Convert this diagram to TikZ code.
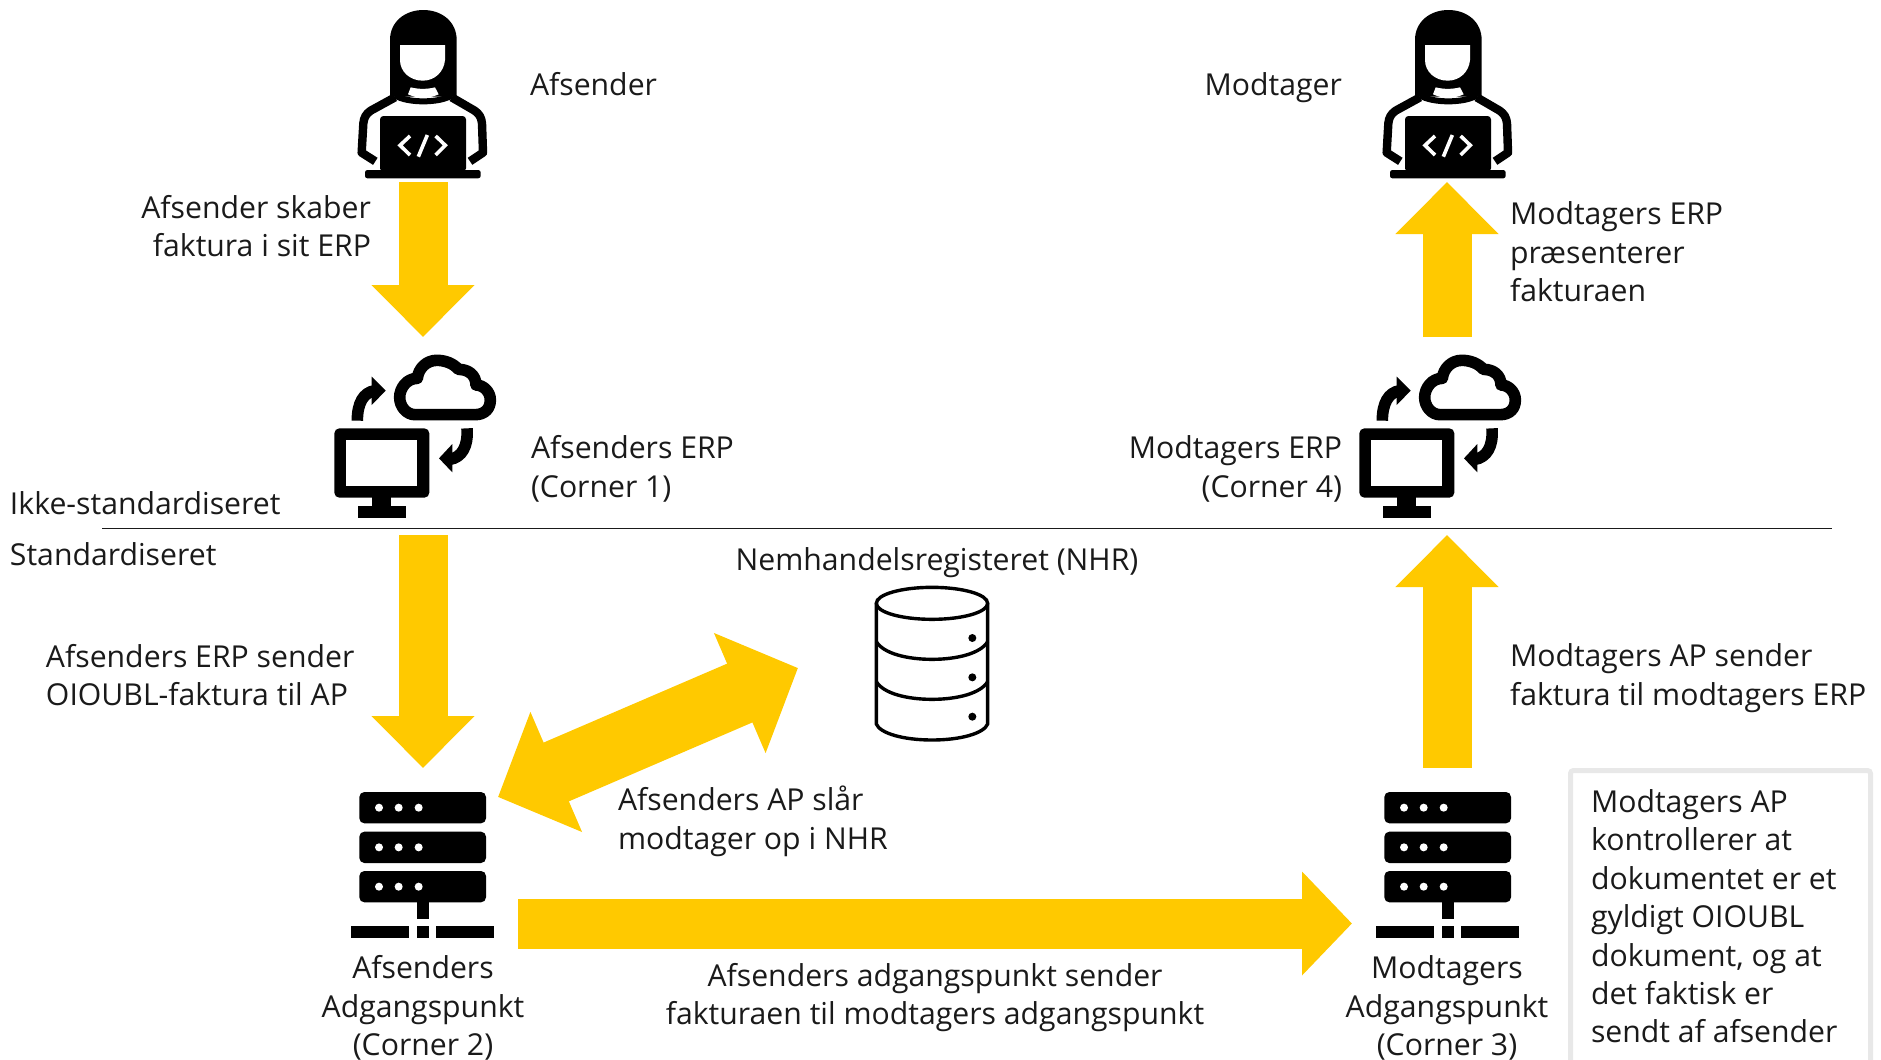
\documentclass[tikz,border=0pt]{standalone}
\usepackage{fontspec}
\setmainfont{Open Sans}
\usetikzlibrary{arrows.meta}
\definecolor{amber}{HTML}{FFC900}
\definecolor{ink}{HTML}{1A1A1A}
\tikzset{
  x=0.5pt,y=-0.5pt,
  txt/.style={inner sep=0pt,outer sep=0pt,yshift=-2.2pt,text=ink,font=\fontsize{15.1pt}{19.2pt}\selectfont,execute at begin node=\strut,execute at end node=\strut},
  iconbox/.style={inner sep=0pt,outer sep=0pt},
  blockv/.style={draw=amber,line width=24.5pt,-{Triangle[length=26pt,width=50pt,color=amber]}},
  blockh/.style={draw=amber,line width=25pt,-{Triangle[length=25pt,width=50.5pt,color=amber]}},
  blockd/.style={draw=amber,line width=32pt,{Triangle[length=31.7pt,width=63.5pt,color=amber]}-{Triangle[length=31.7pt,width=63.5pt,color=amber]}},
}
\newcommand{\personicon}[1]{%
\begin{scope}[shift={(#1,0)},x=0.16667pt,y=-0.16667pt]
 \fill (150,290) -- (150,120) .. controls (150,65) and (195,30) .. (250,30) .. controls (305,30) and (350,65) .. (350,120) -- (350,290) -- cycle;
 \draw[line width=3pt] (165,286) .. controls (200,310) and (300,310) .. (335,286);
 \fill[white] (180,135) -- (315,135) -- (315,180) .. controls (312,215) and (285,242) .. (248,242) .. controls (210,242) and (180,215) .. (180,180) -- cycle;
 \fill[white] (212,262) .. controls (235,268) and (262,268) .. (285,262) -- (296,283) .. controls (265,297) and (235,297) .. (204,283) -- cycle;
 \draw[line width=4.2pt,line join=round] (165,292) -- (92,332) .. controls (78,342) and (72,352) .. (70,370) -- (65,458) -- (106,484);
 \draw[line width=4.2pt,line join=round] (335,292) -- (404,332) .. controls (418,342) and (424,352) .. (426,370) -- (429,458) -- (390,484);
 \fill[rounded corners=1.7pt] (120,348) rectangle (378,515);
 \fill[rounded corners=1.2pt] (75,510) -- (422,510) -- (422,535) -- (75,535) -- cycle;
 \draw[white,line width=1.8pt] (210,408) -- (180,436) -- (210,465);
 \draw[white,line width=1.8pt] (262,405) -- (235,470);
 \draw[white,line width=1.8pt] (287,408) -- (316,436) -- (287,465);
\end{scope}}
\newcommand{\erpicon}[1]{%
\begin{scope}[shift={(#1,340)},x=0.16667pt,y=-0.16667pt]
 \fill[rounded corners=2.5pt] (43,265) rectangle (328,473);
 \fill[white] (78,300) rectangle (292,438);
 \fill (157,470) rectangle (213,500);
 \fill (113,497) rectangle (257,533);
 \draw[line width=5.8pt,line join=round] (285,224) -- (465,224) .. controls (495,224) and (511,205) .. (511,180) .. controls (511,155) and (490,135) .. (468,135) .. controls (468,105) and (445,88) .. (415,88) .. controls (400,70) and (375,61) .. (350,61) .. controls (320,61) and (295,85) .. (292,115) .. controls (260,115) and (239,145) .. (239,172) .. controls (239,200) and (260,224) .. (285,224) -- cycle;
 \draw[line width=5.8pt] (112,242) .. controls (112,190) and (130,157) .. (165,152);
 \fill (155,110) -- (197,152) -- (155,195) -- cycle;
 \draw[line width=5.8pt] (441,265) .. controls (445,320) and (425,352) .. (390,358);
 \fill (397,312) -- (357,355) -- (397,397) -- cycle;
\end{scope}}
\newcommand{\servericon}[1]{%
\begin{scope}[shift={(#1,780)},x=0.16667pt,y=-0.16667pt]
 \foreach \yy in {36,155,273}{
  \fill[rounded corners=2.5pt] (58,\yy) rectangle (438,\yy+94);
  \foreach \xx in {117,176,236}{\fill[white] (\xx,\yy+47) circle (2pt);}
 }
 \fill (231,365) rectangle (267,417);
 \fill (33,438) rectangle (207,474);
 \fill (231,438) rectangle (267,474);
 \fill (288,438) rectangle (462,474);
\end{scope}}
\begin{document}
\begin{tikzpicture}
\useasboundingbox (0,0) rectangle (1881,1060);
% icons
\personicon{340}
\personicon{1365}
\erpicon{320}
\erpicon{1345}
\servericon{340}
\servericon{1365}
\begin{scope}[shift={(860,570)},x=0.16667pt,y=-0.16667pt,line width=1.7pt]
 \draw (49,100) -- (49,462) .. controls (60,490) and (130,510) .. (216,510) .. controls (302,510) and (372,490) .. (383,462) -- (383,100);
 \draw (216,100) ellipse [x radius=167,y radius=48];
 \draw (49,215) .. controls (70,250) and (140,268) .. (216,268) .. controls (292,268) and (362,250) .. (383,215);
 \draw (49,335) .. controls (70,370) and (140,388) .. (216,388) .. controls (292,388) and (362,370) .. (383,335);
 \foreach \yy in {204,322,440}{\fill (337,\yy) circle (2pt);}
\end{scope}
% anchor nodes
\node[iconbox,minimum width=65pt,minimum height=87pt] (person1) at (423,95) {};
\node[iconbox,minimum width=65pt,minimum height=99pt] (erp1) at (423,436) {};
\node[iconbox,minimum width=65pt,minimum height=86pt] (server1) at (423,854) {};
\node[iconbox,minimum width=65pt,minimum height=87pt] (person2) at (1447,95) {};
\node[iconbox,minimum width=65pt,minimum height=99pt] (erp2) at (1447,436) {};
\node[iconbox,minimum width=65pt,minimum height=86pt] (server2) at (1447,854) {};
\coordinate (hstart) at (518,923.5);
\coordinate (hend) at (1352,923.5);
\coordinate (dstart) at (498,797);
\coordinate (dend) at (798,668);
\coordinate (ruleL) at (102,528.5);
\coordinate (ruleR) at (1832,528.5);
% connectors
\draw[blockv] (person1.south) -- (erp1.north);
\draw[blockv] (erp1.south) -- (server1.north);
\draw[blockv] (server2.north) -- (erp2.south);
\draw[blockv] (erp2.north) -- (person2.south);
\draw[blockh] (hstart) -- (hend);
\draw[blockd] (dstart) -- (dend);
\draw[line width=0.8pt,draw=ink] (ruleL) -- (ruleR);
% frame
\draw[line width=2.5pt,draw=black!9,rounded corners=1.5pt] (1570.5,1061) -- (1570.5,770.5) -- (1870.5,770.5) -- (1870.5,1061);
% labels
\node[txt,anchor=west] (tA) at (530,83) {Afsender};
\node[txt,anchor=east,align=right] (tB) at (371,227.5) {Afsender skaber\\faktura i sit ERP};
\node[txt,anchor=west,align=left] (tC) at (1510,253) {Modtagers ERP\\præsenterer\\fakturaen};
\node[txt,anchor=east] (tD) at (1342,83) {Modtager};
\node[txt,anchor=west,align=left] (tE) at (531,468) {Afsenders ERP\\(Corner 1)};
\node[txt,anchor=east,align=right] (tF) at (1342,468) {Modtagers ERP\\(Corner 4)};
\node[txt,anchor=west] (tG) at (10,502) {Ikke-standardiseret};
\node[txt,anchor=west] (tH) at (10,553) {Standardiseret};
\node[txt,anchor=center] (tI) at (937,558) {Nemhandelsregisteret (NHR)};
\node[txt,anchor=west,align=left] (tJ) at (46,676) {Afsenders ERP sender\\OIOUBL-faktura til AP};
\node[txt,anchor=west,align=left] (tK) at (1510,676) {Modtagers AP sender\\faktura til modtagers ERP};
\node[txt,anchor=west,align=left] (tL) at (618,819) {Afsenders AP slår\\modtager op i NHR};
\node[txt,anchor=center,align=center] (tM) at (935,995) {Afsenders adgangspunkt sender\\fakturaen til modtagers adgangspunkt};
\node[txt,anchor=center,align=center] (tN) at (423,1007) {Afsenders\\Adgangspunkt\\(Corner 2)};
\node[txt,anchor=center,align=center] (tO) at (1447,1007) {Modtagers\\Adgangspunkt\\(Corner 3)};
\node[txt,anchor=west,align=left] (tP) at (1591,917.5) {Modtagers AP\\kontrollerer at\\dokumentet er et\\gyldigt OIOUBL\\dokument, og at\\det faktisk er\\sendt af afsender};
\end{tikzpicture}
\end{document}
